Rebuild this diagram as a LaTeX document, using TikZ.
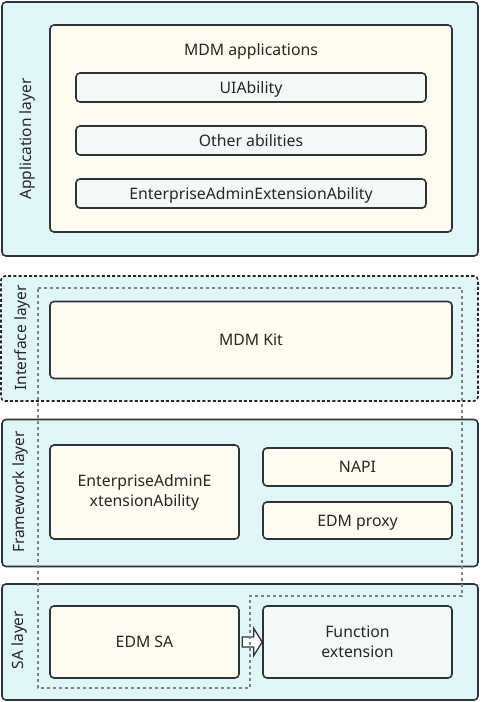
\documentclass[tikz,border=0pt]{standalone}
\usepackage{fontspec}
\setmainfont{Noto Sans}
\usetikzlibrary{calc}
\definecolor{layerfill}{HTML}{E1F6F9}
\definecolor{creamfill}{HTML}{FEFBF1}
\definecolor{subfill}{HTML}{F3FAF6}
\definecolor{edge}{HTML}{2E3338}
\definecolor{dashgray}{HTML}{808080}
\tikzset{
  base/.style={rectangle, rounded corners=4pt, draw=edge, line width=1.6pt, inner sep=0pt, align=center, font=\fontsize{15.8}{20}\selectfont, text=black!85},
  layerbox/.style={base, fill=layerfill},
  creambox/.style={base, fill=creamfill},
  subbox/.style={base, fill=subfill},
  oneline/.style={text height=11.3pt, text depth=0pt},
  dashlayer/.style={base, fill=layerfill, draw=black!85, dash pattern=on 3pt off 2.2pt},
  layerlabel/.style={rotate=90, font=\fontsize{15.5}{18}\selectfont, text=black!85, inner sep=0pt},
  graydash/.style={draw=dashgray, line width=1.2pt, dash pattern=on 3pt off 3pt},
  blockarrow/.style={draw=edge, fill=white, line width=1.3pt, line join=miter},
}
\begin{document}
\begin{tikzpicture}[x=1pt,y=-1pt]
\useasboundingbox (0,0) rectangle (480,702);
% Application layer
\node[layerbox, minimum width=476, minimum height=254] (applayer) at (240,129) {};
\node[layerlabel] (applabel) at (27,139) {Application layer};
\node[creambox, minimum width=402, minimum height=207] (mdmapps) at (251,128.5) {};
\node[font=\fontsize{15.8}{18}\selectfont, text=black!85, inner sep=0pt, oneline] (mdmappstext) at (251,50) {MDM applications};
\node[subbox, oneline, minimum width=350, minimum height=29] (ui) at (251,87.5) {UIAbility};
\node[subbox, oneline, minimum width=350, minimum height=29] (other) at (251,140.5) {Other abilities};
\node[subbox, oneline, minimum width=350, minimum height=29] (eaea) at (251,193.5) {EnterpriseAdminExtensionAbility};
% Interface layer
\node[dashlayer, minimum width=477, minimum height=125] (iflayer) at (239.5,338.5) {};
\node[layerlabel] (iflabel) at (22,338) {Interface layer};
\node[creambox, oneline, minimum width=402, minimum height=77] (kit) at (251,340) {MDM Kit};
% Framework layer
\node[layerbox, minimum width=476, minimum height=147] (fwlayer) at (240,493) {};
\node[layerlabel] (fwlabel) at (20,492) {Framework layer};
\node[creambox, minimum width=189, minimum height=94] (fweaea) at (144.5,492) {EnterpriseAdminE\\xtensionAbility};
\node[creambox, oneline, minimum width=189, minimum height=38] (napi) at (357.5,467) {NAPI};
\node[creambox, oneline, minimum width=189, minimum height=37] (proxy) at (357.5,520.5) {EDM proxy};
% SA layer
\node[layerbox, minimum width=476, minimum height=116] (salayer) at (240,642) {};
\node[layerlabel] (salabel) at (19,640) {SA layer};
\node[creambox, oneline, minimum width=189, minimum height=72] (edmsa) at (144.5,642) {EDM SA};
\node[subbox, minimum width=189, minimum height=72] (func) at (357.5,642) {Function\\extension};
% hollow block arrow from EDM SA to Function extension
\coordinate (arrstart) at ($(edmsa.east)+(2.5,0)$);
\draw[blockarrow] ($(arrstart)+(0,-5)$) -- ($(arrstart)+(11.5,-5)$) -- ($(arrstart)+(11.5,-13.5)$)
  -- (func.west) -- ($(arrstart)+(11.5,13.5)$) -- ($(arrstart)+(11.5,5)$) -- ($(arrstart)+(0,5)$) -- cycle;
% gray dashed outline
\coordinate (g1) at (38,288);
\coordinate (g2) at (462,288);
\coordinate (g3) at (462,596);
\coordinate (g4) at (250,596);
\coordinate (g5) at (250,688);
\coordinate (g6) at (38,688);
\draw[graydash] (g1) -- (g2) -- (g3) -- (g4) -- (g5) -- (g6) -- cycle;
\end{tikzpicture}
\end{document}
